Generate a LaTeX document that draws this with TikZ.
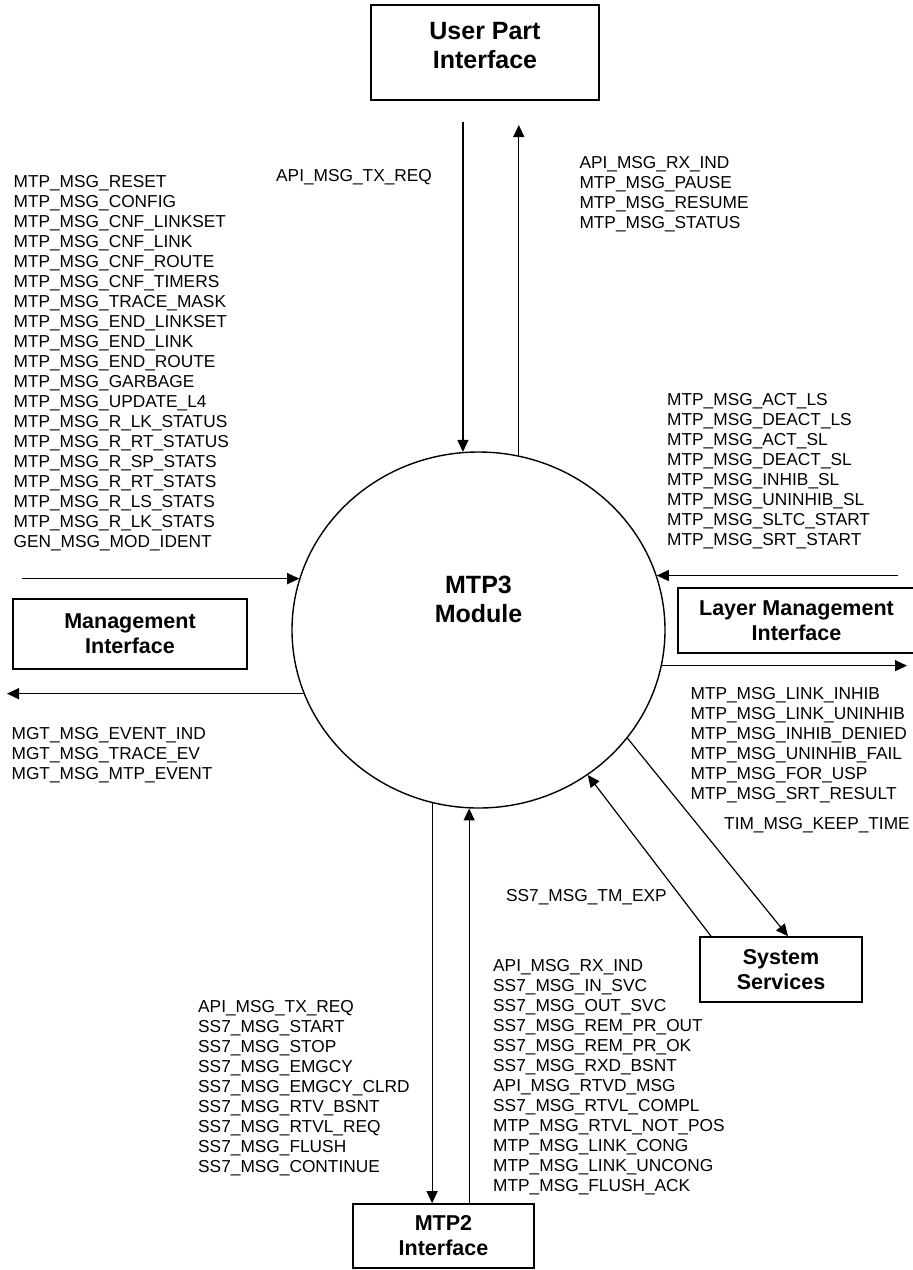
\documentclass[tikz,border=0pt]{standalone}
\usepackage{fontspec}
\setmainfont{Liberation Sans}
\usetikzlibrary{arrows.meta,shapes.geometric}
\begin{document}
\begin{tikzpicture}[x=1pt,y=-1pt,
  msg/.style={font=\fontsize{17.3}{20}\selectfont, inner sep=0pt, anchor=base west},
  box/.style={draw, line width=1.6pt, align=center, inner sep=0pt, font=\bfseries\fontsize{21.5}{25}\selectfont},
  bigbox/.style={box, font=\bfseries\fontsize{25}{29}\selectfont},
  arr/.style={line width=1.2pt, -{Triangle[length=12pt,width=11pt]}}]
\useasboundingbox (0,0) rectangle (913,1270);

% central module
\node[draw, ellipse, line width=1.4pt, minimum width=373pt, minimum height=356pt, inner sep=0pt,
      align=center, font=\bfseries\fontsize{25}{29}\selectfont] (mtp) at (478.5,630) {MTP3\\Module\\[33pt]\mbox{}};

% interface boxes
\node[bigbox, minimum width=228pt, minimum height=95pt] (upi) at (485,52.5) {User Part\\Interface\\[-15pt]\mbox{}};
\node[box, minimum width=234pt, minimum height=70pt] (mgi) at (130,634) {Management\\Interface};
\node[box, minimum width=237pt, minimum height=65pt] (lmi) at (796.5,620.5) {Layer Management\\Interface};
\node[box, minimum width=162pt, minimum height=65pt] (ssi) at (781,969.5) {System\\Services};
\node[box, minimum width=181pt, minimum height=64pt] (m2i) at (443.5,1236) {MTP2\\Interface};

% connectors
\draw[arr] (mtp.95.3 |- 0,122) -- (mtp.95.3);
\draw[arr] (mtp.77.2) -- (mtp.77.2 |- 0,125);
\draw[arr] (22,0 |- mtp.164.07) -- (mtp.164.07);
\draw[arr] (mtp.-160.47) -- (7,0 |- mtp.-160.47);
\draw[arr] (898,0 |- mtp.17.88) -- (mtp.17.88);
\draw[arr] (mtp.-11.47) -- (907,0 |- mtp.-11.47);
\draw[arr] (mtp.-105.1) -- (mtp.-105.1 |- m2i.north);
\draw[arr] (mtp.-93.06 |- m2i.north) -- (mtp.-93.06);
\draw[arr] (mtp.-36.96) -- (788,0 |- ssi.north);
\draw[arr] (711,0 |- ssi.north) -- (mtp.-53.2);

% message lists
\foreach \t [count=\i] in {MTP\_MSG\_RESET, MTP\_MSG\_CONFIG, MTP\_MSG\_CNF\_LINKSET, MTP\_MSG\_CNF\_LINK,
  MTP\_MSG\_CNF\_ROUTE, MTP\_MSG\_CNF\_TIMERS, MTP\_MSG\_TRACE\_MASK, MTP\_MSG\_END\_LINKSET,
  MTP\_MSG\_END\_LINK, MTP\_MSG\_END\_ROUTE, MTP\_MSG\_GARBAGE, MTP\_MSG\_UPDATE\_L4,
  MTP\_MSG\_R\_LK\_STATUS, MTP\_MSG\_R\_RT\_STATUS, MTP\_MSG\_R\_SP\_STATS, MTP\_MSG\_R\_RT\_STATS,
  MTP\_MSG\_R\_LS\_STATS, MTP\_MSG\_R\_LK\_STATS, GEN\_MSG\_MOD\_IDENT}
  \node[msg] (la\i) at (13.4,{187.3+20*(\i-1)}) {\t};

\node[msg] (tx) at (276,181.7) {API\_MSG\_TX\_REQ};

\foreach \t [count=\i] in {API\_MSG\_RX\_IND, MTP\_MSG\_PAUSE, MTP\_MSG\_RESUME, MTP\_MSG\_STATUS}
  \node[msg] (lb\i) at (579.3,{168.3+20*(\i-1)}) {\t};

\foreach \t [count=\i] in {MTP\_MSG\_ACT\_LS, MTP\_MSG\_DEACT\_LS, MTP\_MSG\_ACT\_SL, MTP\_MSG\_DEACT\_SL,
  MTP\_MSG\_INHIB\_SL, MTP\_MSG\_UNINHIB\_SL, MTP\_MSG\_SLTC\_START, MTP\_MSG\_SRT\_START}
  \node[msg] (lc\i) at (667,{405+20*(\i-1)}) {\t};

\foreach \t [count=\i] in {MTP\_MSG\_LINK\_INHIB, MTP\_MSG\_LINK\_UNINHIB, MTP\_MSG\_INHIB\_DENIED,
  MTP\_MSG\_UNINHIB\_FAIL, MTP\_MSG\_FOR\_USP, MTP\_MSG\_SRT\_RESULT}
  \node[msg] (ld\i) at (690.4,{699+20*(\i-1)}) {\t};

\foreach \t [count=\i] in {MGT\_MSG\_EVENT\_IND, MGT\_MSG\_TRACE\_EV, MGT\_MSG\_MTP\_EVENT}
  \node[msg] (le\i) at (11.4,{739.3+20*(\i-1)}) {\t};

\node[msg] (tim) at (724,829) {TIM\_MSG\_KEEP\_TIME};
\node[msg] (tmx) at (505.9,901) {SS7\_MSG\_TM\_EXP};

\foreach \t [count=\i] in {API\_MSG\_RX\_IND, SS7\_MSG\_IN\_SVC, SS7\_MSG\_OUT\_SVC, SS7\_MSG\_REM\_PR\_OUT,
  SS7\_MSG\_REM\_PR\_OK, SS7\_MSG\_RXD\_BSNT, API\_MSG\_RTVD\_MSG, SS7\_MSG\_RTVL\_COMPL,
  MTP\_MSG\_RTVL\_NOT\_POS, MTP\_MSG\_LINK\_CONG, MTP\_MSG\_LINK\_UNCONG, MTP\_MSG\_FLUSH\_ACK}
  \node[msg] (lf\i) at (493,{971.7+20*(\i-1)}) {\t};

\foreach \t [count=\i] in {API\_MSG\_TX\_REQ, SS7\_MSG\_START, SS7\_MSG\_STOP, SS7\_MSG\_EMGCY,
  SS7\_MSG\_EMGCY\_CLRD, SS7\_MSG\_RTV\_BSNT, SS7\_MSG\_RTVL\_REQ, SS7\_MSG\_FLUSH, SS7\_MSG\_CONTINUE}
  \node[msg] (lg\i) at (198,{1012.3+20*(\i-1)}) {\t};
\end{tikzpicture}
\end{document}
